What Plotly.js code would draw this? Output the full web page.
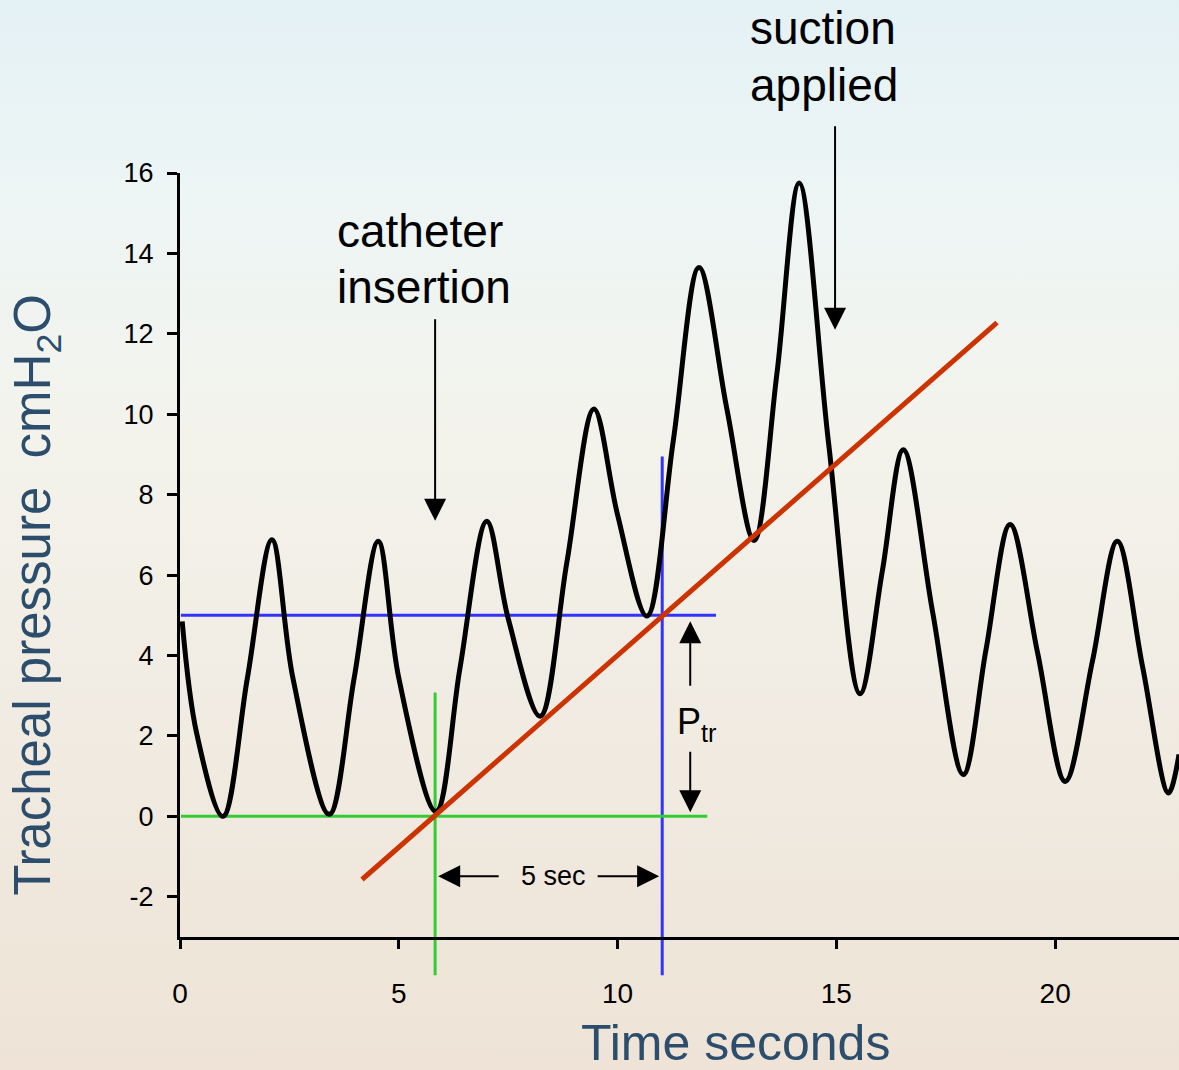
<!DOCTYPE html>
<html>
<head>
<meta charset="utf-8">
<script src="https://cdn.plot.ly/plotly-3.0.1.min.js"></script>
<style>
  html, body { margin: 0; padding: 0; }
  #chart {
    width: 1179px; height: 1070px;
    background: linear-gradient(180deg, #e4f1f4 0%, #edf5f5 18%, #f3f3ec 40%, #f1ece3 65%, #eee3d6 100%);
  }
</style>
</head>
<body>
<div id="chart"></div>
<script>
// ---- data (peaks, troughs and mid-slope points) ----
const timeSec = [0.05, 0.38, 0.98, 1.54, 2.10, 2.58, 3.41, 3.98, 4.53, 5.00,
  5.85, 6.40, 7.01, 7.50, 8.23, 8.84, 9.46, 10.00, 10.67, 11.27, 11.86,
  12.50, 13.12, 13.64, 14.15, 14.82, 15.54, 16.05, 16.53, 17.20, 17.90, 18.42, 18.97,
  19.60, 20.23, 20.85, 21.42, 22.00, 22.59, 22.83];
const pressure = [4.85, 2.07, 0.0, 3.44, 6.88, 3.44, 0.05, 3.44, 6.84, 3.44,
  0.12, 3.70, 7.34, 4.92, 2.49, 6.31, 10.13, 7.50, 4.98, 9.32, 13.65,
  10.12, 6.86, 11.0, 15.75, 9.30, 3.05, 6.10, 9.12, 5.08, 1.04, 4.15, 7.26,
  4.06, 0.87, 3.85, 6.84, 3.71, 0.58, 1.54];

const slopeTime = [4.16, 18.67];
const slopePressure = [-1.57, 12.28];

const insertionTime = 5.83;   // green vertical
const measureTime = 11.02;    // blue vertical
const baselineP = 0;          // green horizontal
const pTr = 5;                // blue horizontal

const xTicks = [0, 5, 10, 15, 20];
const yTicks = [-2, 0, 2, 4, 6, 8, 10, 12, 14, 16];

const xRange = [0, 22.83];
const yRange = [-3, 16];

const paperX = v => (v - xRange[0]) / (xRange[1] - xRange[0]);
const paperY = v => (v - yRange[0]) / (yRange[1] - yRange[0]);

const FONT = '"Liberation Sans", Arial, Helvetica, sans-serif';
const titleColor = '#2c4e6c';

const traces = [
  {
    x: timeSec, y: pressure, mode: 'lines', type: 'scatter',
    line: { color: '#000000', width: 5, shape: 'spline', smoothing: 1 },
    hoverinfo: 'skip', showlegend: false
  },
  {
    x: slopeTime, y: slopePressure, mode: 'lines', type: 'scatter',
    line: { color: '#cc3300', width: 5 },
    hoverinfo: 'skip', showlegend: false
  }
];

const shapes = [
  { type: 'line', xref: 'x', yref: 'y', x0: 0.02, x1: 12.05, y0: baselineP, y1: baselineP,
    line: { color: '#33cc33', width: 3 }, layer: 'below' },
  { type: 'line', xref: 'x', yref: 'y', x0: 0.02, x1: 12.25, y0: pTr, y1: pTr,
    line: { color: '#3333ff', width: 3 }, layer: 'below' },
  { type: 'line', xref: 'paper', yref: 'paper', x0: paperX(insertionTime), x1: paperX(insertionTime),
    y0: -0.05, y1: paperY(3.08), line: { color: '#33cc33', width: 3 }, layer: 'below' },
  { type: 'line', xref: 'paper', yref: 'paper', x0: paperX(measureTime), x1: paperX(measureTime),
    y0: -0.05, y1: paperY(8.95), line: { color: '#3333ff', width: 3 }, layer: 'below' }
];

const arrow = (x, y, ax, ay) => ({
  x: x, y: y, xref: 'x', yref: 'y', text: '', showarrow: true,
  ax: ax, ay: ay, arrowhead: 2, arrowsize: 2.2, arrowwidth: 2, arrowcolor: '#000000',
  standoff: 0, startstandoff: 0
});

const label = (text, x, y, xref, yref, size, xanchor) => ({
  x: x, y: y, xref: xref, yref: yref, text: text, showarrow: false,
  xanchor: xanchor || 'center', yanchor: 'middle',
  font: { family: FONT, size: size, color: '#000000' }
});

const annotations = [
  label('catheter', 3.54, 14.57, 'x', 'y', 46, 'left'),
  label('insertion', 3.54, 13.17, 'x', 'y', 46, 'left'),
  arrow(insertionTime, 7.35, 0, -203),
  label('suction', 12.98, paperY(19.6), 'x', 'paper', 46, 'left'),
  label('applied', 12.98, paperY(18.2), 'x', 'paper', 46, 'left'),
  arrow(14.97, 12.1, 0, -205),
  label('5 sec', 8.53, -1.49, 'x', 'y', 27),
  arrow(5.9, -1.49, 62, 0),
  arrow(10.95, -1.49, -63, 0),
  label('P<sub>tr</sub>', 11.8, 2.3, 'x', 'y', 36),
  arrow(11.66, 4.85, 0, 66),
  arrow(11.66, 0.1, 0, -62),
  // axis titles
  { x: paperX(12.7), y: -0.139, xref: 'paper', yref: 'paper', text: 'Time seconds', showarrow: false,
    xanchor: 'center', yanchor: 'middle',
    font: { family: FONT, size: 50, color: titleColor } },
  { x: -0.143, y: 0.448, xref: 'paper', yref: 'paper', text: 'Tracheal pressure  cmH<sub>2</sub>O',
    textangle: -90, showarrow: false, xanchor: 'center', yanchor: 'middle',
    font: { family: FONT, size: 51, color: titleColor } }
];

const layout = {
  width: 1179, height: 1070,
  margin: { l: 180, r: 0, t: 173, b: 133, pad: 0 },
  paper_bgcolor: 'rgba(0,0,0,0)', plot_bgcolor: 'rgba(0,0,0,0)',
  showlegend: false,
  font: { family: FONT, color: '#000000' },
  xaxis: {
    range: xRange, tickvals: xTicks, ticktext: xTicks.map(String),
    showgrid: false, zeroline: false, showline: true, linecolor: '#000000', linewidth: 3,
    ticks: 'outside', ticklen: 9, tickwidth: 3, tickcolor: '#000000',
    tickfont: { family: FONT, size: 28, color: '#000000' }, ticklabelstandoff: 20,
    fixedrange: true
  },
  yaxis: {
    range: yRange, tickvals: yTicks, ticktext: yTicks.map(String),
    showgrid: false, zeroline: false, showline: true, linecolor: '#000000', linewidth: 3,
    ticks: 'outside', ticklen: 10, tickwidth: 3, tickcolor: '#000000',
    tickfont: { family: FONT, size: 27, color: '#000000' }, ticklabelstandoff: 8,
    fixedrange: true
  },
  shapes: shapes,
  annotations: annotations
};

Plotly.newPlot('chart', traces, layout, { staticPlot: true, displayModeBar: false });
</script>
</body>
</html>
